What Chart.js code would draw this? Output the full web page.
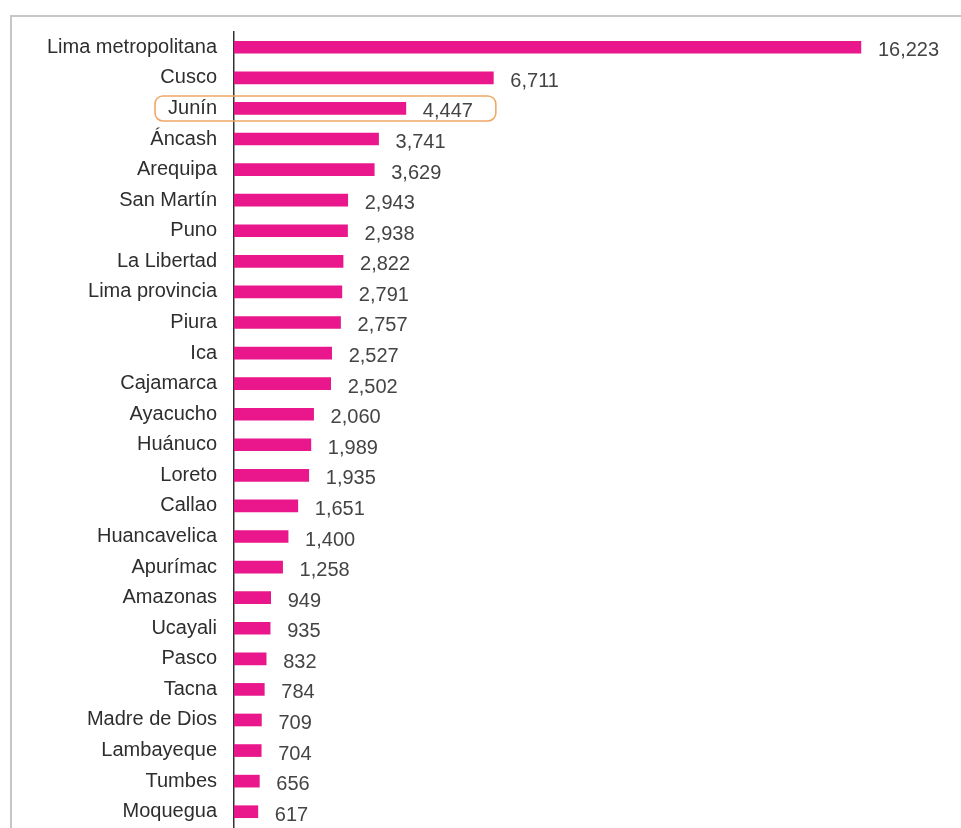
<!DOCTYPE html>
<html>
<head>
<meta charset="utf-8">
<script src="https://cdn.jsdelivr.net/npm/chart.js@4/dist/chart.umd.min.js"></script>
<style>
  html, body { margin: 0; padding: 0; background: #fff; }
  #wrap { position: relative; width: 961px; height: 828px; overflow: hidden; }
  #frame { position: absolute; left: 10px; top: 15px; width: 960px; height: 830px;
           border-left: 2px solid #c6c6c6; border-top: 2px solid #c6c6c6; }
  canvas { position: absolute; left: 0; top: 0; }
</style>
</head>
<body>
<div id="wrap">
  <div id="frame"></div>
  <canvas id="chart" width="961" height="828"></canvas>
</div>
<script>
const regions = ['Lima metropolitana', 'Cusco', 'Junín', 'Áncash', 'Arequipa', 'San Martín', 'Puno',
    'La Libertad', 'Lima provincia', 'Piura', 'Ica', 'Cajamarca', 'Ayacucho', 'Huánuco', 'Loreto',
    'Callao', 'Huancavelica', 'Apurímac', 'Amazonas', 'Ucayali', 'Pasco', 'Tacna', 'Madre de Dios',
    'Lambayeque', 'Tumbes', 'Moquegua'];
const totals = [16223, 6711, 4447, 3741, 3629, 2943, 2938, 2822, 2791, 2757, 2527, 2502, 2060, 1989,
    1935, 1651, 1400, 1258, 949, 935, 832, 784, 709, 704, 656, 617];
const highlighted = 'Junín';

const fontFamily = '"Liberation Sans", Arial, sans-serif';

const valueLabels = {
    id: 'valueLabels',
    afterDatasetsDraw(chart) {
        const ctx = chart.ctx;
        const meta = chart.getDatasetMeta(0);
        ctx.save();
        ctx.font = '20px ' + fontFamily;
        ctx.fillStyle = '#444';
        ctx.textAlign = 'left';
        ctx.textBaseline = 'middle';
        meta.data.forEach((bar, i) => {
            ctx.fillText(totals[i].toLocaleString('en-US'), bar.x + 17, bar.y + 3.5);
        });
        ctx.restore();
    }
};

const highlightBox = {
    id: 'highlightBox',
    afterDraw(chart) {
        const i = regions.indexOf(highlighted);
        if (i < 0) return;
        const bar = chart.getDatasetMeta(0).data[i];
        const ctx = chart.ctx;
        const left = chart.chartArea.left - 79;
        const right = bar.x + 90;
        const top = bar.y - 12.5;
        ctx.save();
        ctx.strokeStyle = '#f0a866';
        ctx.lineWidth = 1.6;
        ctx.beginPath();
        ctx.roundRect(left, top, right - left, 25, 8);
        ctx.stroke();
        ctx.restore();
    }
};

new Chart(document.getElementById('chart').getContext('2d'), {
    type: 'bar',
    data: {
        labels: regions,
        datasets: [{ data: totals, backgroundColor: '#ea168b', borderWidth: 0, barThickness: 12 }]
    },
    options: {
        indexAxis: 'y',
        responsive: false,
        animation: false,
        layout: { padding: { top: 32, right: 21, bottom: 1, left: 0 } },
        plugins: { legend: { display: false }, tooltip: { enabled: false } },
        scales: {
            x: { display: false, min: 0, max: 18270 },
            y: {
                grid: { display: false, drawTicks: false },
                border: { display: true, color: '#333', width: 1.5 },
                ticks: { color: '#2e2e2e', padding: 17, font: { family: fontFamily, size: 20 } },
                afterFit: scale => {
                    scale.width = 234;
                    scale.paddingTop = 0;
                    scale.paddingBottom = 0;
                }
            }
        }
    },
    plugins: [valueLabels, highlightBox]
});
</script>
</body>
</html>
